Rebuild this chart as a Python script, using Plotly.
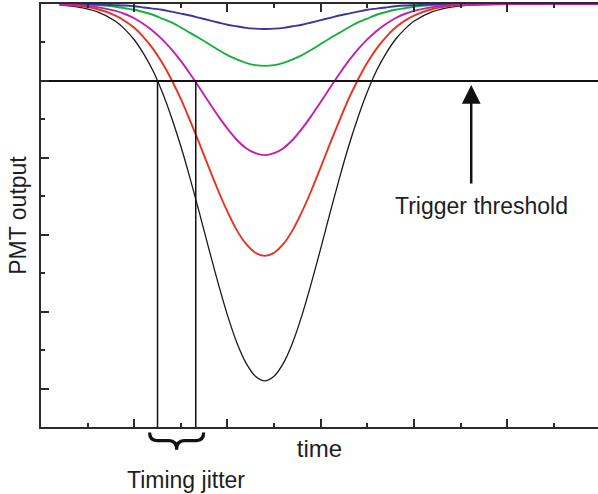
import plotly.graph_objects as go

# Sample times (arbitrary units) at which the pulses are tabulated
time = [0.4, 0.8, 1.2, 1.6, 1.8, 2.0, 2.2, 2.4, 2.6, 2.8, 3.0, 3.2, 3.4, 3.6, 3.8, 4.0,
        4.2, 4.4, 4.6, 4.8, 5.0, 5.2, 5.4, 5.6, 5.8, 6.0, 6.2, 6.4, 6.6, 6.8, 7.0,
        7.2, 7.4, 7.6, 7.8, 8.0, 8.4, 8.8, 9.2, 10.0, 12.0]

# PMT output for five pulse amplitudes (negative-going pulses)
pulse_black = [-0.03, -0.08, -0.20, -0.45, -0.66, -0.93, -1.29, -1.73, -2.29, -2.95, -3.70,
               -4.54, -5.44, -6.36, -7.26, -8.09, -8.80, -9.34, -9.68, -9.80, -9.68, -9.34,
               -8.80, -8.09, -7.26, -6.36, -5.44, -4.54, -3.70, -2.95, -2.29, -1.73, -1.29,
               -0.93, -0.66, -0.45, -0.20, -0.08, -0.03, 0.0, 0.0]
pulse_red = [-0.02, -0.05, -0.13, -0.30, -0.44, -0.62, -0.86, -1.16, -1.53, -1.97, -2.47,
             -3.04, -3.63, -4.25, -4.85, -5.40, -5.88, -6.24, -6.47, -6.55, -6.47, -6.24,
             -5.88, -5.40, -4.85, -4.25, -3.63, -3.04, -2.47, -1.97, -1.53, -1.16, -0.86,
             -0.62, -0.44, -0.30, -0.13, -0.05, -0.02, 0.0, 0.0]
pulse_magenta = [-0.01, -0.03, -0.08, -0.18, -0.26, -0.37, -0.52, -0.70, -0.92, -1.18, -1.48,
                 -1.82, -2.18, -2.55, -2.91, -3.24, -3.53, -3.75, -3.88, -3.93, -3.88, -3.75,
                 -3.53, -3.24, -2.91, -2.55, -2.18, -1.82, -1.48, -1.18, -0.92, -0.70, -0.52,
                 -0.37, -0.26, -0.18, -0.08, -0.03, -0.01, 0.0, 0.0]
pulse_green = [0.0, -0.01, -0.03, -0.07, -0.11, -0.15, -0.21, -0.28, -0.38, -0.48, -0.61,
               -0.75, -0.89, -1.04, -1.19, -1.33, -1.44, -1.53, -1.59, -1.61, -1.59, -1.53,
               -1.44, -1.33, -1.19, -1.04, -0.89, -0.75, -0.61, -0.48, -0.38, -0.28, -0.21,
               -0.15, -0.11, -0.07, -0.03, -0.01, 0.0, 0.0, 0.0]
pulse_navy = [0.0, -0.01, -0.01, -0.03, -0.04, -0.06, -0.09, -0.12, -0.15, -0.20, -0.25,
              -0.30, -0.36, -0.42, -0.48, -0.54, -0.58, -0.62, -0.64, -0.65, -0.64, -0.62,
              -0.58, -0.54, -0.48, -0.42, -0.36, -0.30, -0.25, -0.20, -0.15, -0.12, -0.09,
              -0.06, -0.04, -0.03, -0.01, -0.01, 0.0, 0.0, 0.0]

threshold = -2.0
trigger_times = [2.50, 3.32]   # threshold crossings of largest / smallest triggering pulse
x_range = [0, 11.95]
y_range = [-11, 0]

FONT = "Liberation Sans, Arial, sans-serif"
AXIS_COLOR = "#2b2b2b"
TEXT_COLOR = "#1e1e1e"

fig = go.Figure()

curves = [
    (pulse_black, "#1a1a1a", 1.3),
    (pulse_red, "#e8321e", 1.9),
    (pulse_green, "#13b03c", 1.9),
    (pulse_navy, "#3a36a0", 1.9),
    (pulse_magenta, "#c21fb0", 1.9),
]
for values, color, width in curves:
    fig.add_trace(go.Scatter(
        x=time, y=values, mode="lines",
        line=dict(color=color, width=width, shape="spline", smoothing=0.8),
        hoverinfo="skip", showlegend=False,
    ))

# Trigger threshold level
fig.add_trace(go.Scatter(
    x=[0, 12], y=[threshold, threshold], mode="lines",
    line=dict(color="#111111", width=2), hoverinfo="skip", showlegend=False,
))

# Trigger instants for the earliest and latest crossing
for t in trigger_times:
    fig.add_trace(go.Scatter(
        x=[t, t], y=[threshold, y_range[0]], mode="lines",
        line=dict(color="#111111", width=1.5), hoverinfo="skip", showlegend=False,
    ))

# Curly brace under the jitter interval, in x data / paper y coordinates
x0 = trigger_times[0] - 0.17
x1 = trigger_times[1] + 0.17
xc = 0.5 * (trigger_times[0] + trigger_times[1])
r = 0.16
y_top, y_mid, y_bot = -0.013, -0.032, -0.054
brace = (f"M {x0},{y_top} Q {x0},{y_mid} {x0 + r},{y_mid} "
         f"L {xc - r},{y_mid} Q {xc},{y_mid} {xc},{y_bot} "
         f"Q {xc},{y_mid} {xc + r},{y_mid} "
         f"L {x1 - r},{y_mid} Q {x1},{y_mid} {x1},{y_top}")
fig.add_shape(type="path", path=brace, xref="x", yref="paper",
              line=dict(color="#111111", width=3.2))

annotations = [
    # arrow pointing up at the threshold line
    dict(x=9.23, y=threshold, xref="x", yref="y", text="", showarrow=True,
         ax=0, ay=104, axref="pixel", ayref="pixel", standoff=4,
         arrowhead=2, arrowsize=1.5, arrowwidth=2.5, arrowcolor="#111111"),
    dict(x=9.46, y=-5.25, xref="x", yref="y", text="Trigger threshold",
         xanchor="center", yanchor="middle", showarrow=False,
         font=dict(family=FONT, size=23, color=TEXT_COLOR)),
    dict(x=3.11, y=-0.125, xref="x", yref="paper", text="Timing jitter",
         xanchor="center", yanchor="middle", showarrow=False,
         font=dict(family=FONT, size=23, color=TEXT_COLOR)),
]

fig.update_layout(
    width=598, height=494,
    margin=dict(l=41, r=0, t=4, b=67),
    paper_bgcolor="white", plot_bgcolor="white",
    annotations=annotations,
    xaxis=dict(
        range=x_range, showgrid=False, zeroline=False,
        showline=True, linecolor=AXIS_COLOR, linewidth=2, mirror="ticks",
        ticks="inside", tick0=0, dtick=2, ticklen=8, tickwidth=1.5, tickcolor=AXIS_COLOR,
        minor=dict(ticks="inside", dtick=1, tick0=0, ticklen=4, tickwidth=1.5,
                   tickcolor=AXIS_COLOR, showgrid=False),
        showticklabels=False,
        title=dict(text="time", standoff=12,
                   font=dict(family=FONT, size=24, color=TEXT_COLOR)),
    ),
    yaxis=dict(
        range=y_range, showgrid=False, zeroline=False,
        showline=True, linecolor=AXIS_COLOR, linewidth=2,
        ticks="inside", tick0=0, dtick=2, ticklen=8, tickwidth=1.5, tickcolor=AXIS_COLOR,
        minor=dict(ticks="inside", dtick=1, tick0=0, ticklen=4, tickwidth=1.5,
                   tickcolor=AXIS_COLOR, showgrid=False),
        showticklabels=False,
        title=dict(text="PMT output", standoff=6,
                   font=dict(family=FONT, size=23, color=TEXT_COLOR)),
    ),
    yaxis2=dict(
        range=y_range, overlaying="y", side="right", showgrid=False, zeroline=False,
        showline=False, ticks="inside", tick0=0, dtick=2, ticklen=8, tickwidth=1.5,
        tickcolor=AXIS_COLOR,
        minor=dict(ticks="inside", dtick=1, tick0=0, ticklen=4, tickwidth=1.5,
                   tickcolor=AXIS_COLOR, showgrid=False),
        showticklabels=False,
    ),
)

fig.write_html("out.html")
